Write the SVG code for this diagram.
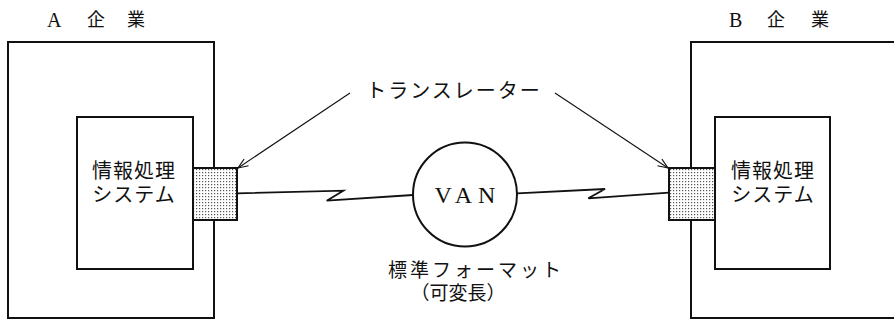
<svg xmlns="http://www.w3.org/2000/svg" width="894" height="323" viewBox="0 0 894 323">
  <style>
    .box { fill: #fff; stroke: #111; stroke-width: 2; }
    .line { fill: none; stroke: #111; stroke-width: 1.8; stroke-linejoin: miter; }
    .arrow { fill: none; stroke: #111; stroke-width: 1.1; }
    .jp { font-family: "Noto Sans CJK JP", "Noto Sans", sans-serif; fill: #111; }
    .serif { font-family: "Liberation Serif", "Noto Sans CJK JP", serif; fill: #111; }
    .trans { fill: url(#dots); stroke: #111; stroke-width: 2; }
  </style>
  <defs>
    <pattern id="dots" width="3" height="3" patternUnits="userSpaceOnUse">
      <rect width="3" height="3" fill="#fff"/>
      <rect x="1" y="1" width="1.2" height="1.2" fill="#555"/>
    </pattern>
    <marker id="ah" markerWidth="12" markerHeight="10" refX="11" refY="5" orient="auto" markerUnits="userSpaceOnUse">
      <path d="M1,1 L11,5 L1,9" fill="none" stroke="#111" stroke-width="1.1"/>
    </marker>
  </defs>

  <g id="companyA">
    <rect class="box" x="8" y="42" width="206" height="276"/>
    <text class="serif" x="47" y="27" font-size="20">A</text>
    <text class="jp" x="87" y="26" font-size="18">企</text>
    <text class="jp" x="127" y="26" font-size="18">業</text>
  </g>
  <g id="companyB">
    <path class="box" d="M894,42 L691,42 L691,318 L894,318"/>
    <text class="serif" x="729" y="27" font-size="20">B</text>
    <text class="jp" x="767" y="26" font-size="18">企</text>
    <text class="jp" x="811" y="26" font-size="18">業</text>
  </g>

  <g id="systemA">
    <rect class="box" x="77" y="117" width="116" height="152"/>
    <text class="jp" x="134" y="178" font-size="20" text-anchor="middle" letter-spacing="1">情報処理</text>
    <text class="jp" x="134" y="202" font-size="20" text-anchor="middle" letter-spacing="1">システム</text>
  </g>
  <g id="systemB">
    <rect class="box" x="715" y="117" width="115" height="152"/>
    <text class="jp" x="773" y="178" font-size="20" text-anchor="middle" letter-spacing="1">情報処理</text>
    <text class="jp" x="773" y="202" font-size="20" text-anchor="middle" letter-spacing="1">システム</text>
  </g>

  <g id="translatorA">
    <rect class="trans" x="193" y="168" width="44" height="52"/>
  </g>
  <g id="translatorB">
    <rect class="trans" x="669" y="168" width="46" height="52"/>
  </g>

  <g id="van">
    <circle cx="465" cy="194.5" r="52" fill="#fff" stroke="#111" stroke-width="2"/>
    <text class="serif" x="468" y="203" font-size="24" text-anchor="middle" letter-spacing="6">VAN</text>
  </g>

  <g id="labels">
    <text class="jp" x="454" y="98" font-size="20" text-anchor="middle" letter-spacing="2">トランスレーター</text>
    <text class="jp" x="476" y="277" font-size="19" text-anchor="middle" letter-spacing="3">標準フォーマット</text>
    <text class="jp" x="458" y="300" font-size="19" text-anchor="middle">（可変長）</text>
  </g>

  <g id="connectors">
    <path class="line" d="M237,193.3 L343.3,190.7 L326.7,200.7 L413,195"/>
    <path class="line" d="M517,193.3 L605,189 L588.3,198.3 L669,192.7"/>
    <line class="arrow" x1="350" y1="93" x2="238" y2="168" marker-end="url(#ah)"/>
    <line class="arrow" x1="555" y1="93" x2="668" y2="168" marker-end="url(#ah)"/>
  </g>
</svg>
